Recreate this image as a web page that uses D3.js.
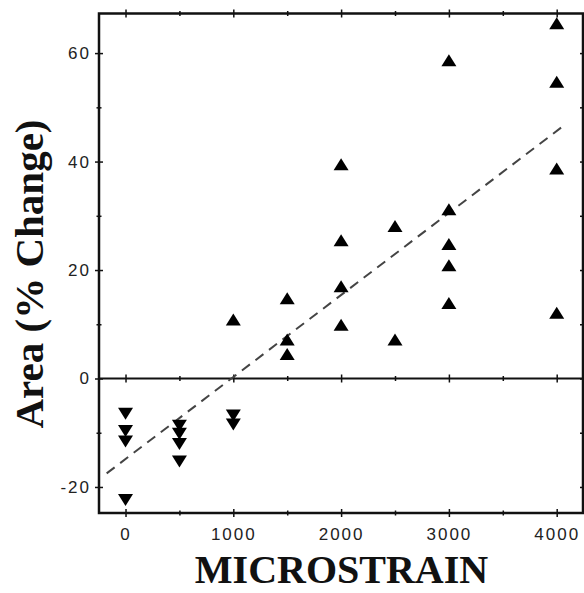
<!DOCTYPE html>
<html>
<head>
<meta charset="utf-8">
<script src="https://cdn.jsdelivr.net/npm/d3@7"></script>
<style>
  body { margin: 0; background: #fff; }
  svg { display: block; }
  .tick text { font-family: "Liberation Sans", Arial, sans-serif; font-size: 17px; letter-spacing: 2px; fill: #222; }
  .axis-title { font-family: "Liberation Serif", "Times New Roman", serif; font-weight: bold; fill: #111; }
</style>
</head>
<body>
<div id="chart"></div>
<script>
// ---------------------------------------------------------------------------
// DATA
// ---------------------------------------------------------------------------
const upStrain = [1000, 1500, 1500, 1500, 2000, 2000, 2000, 2000, 2500, 2500,
  3000, 3000, 3000, 3000, 3000, 4000, 4000, 4000, 4000];
const upArea = [10.9, 14.8, 7.2, 4.5, 39.5, 25.5, 17.0, 9.9, 28.1, 7.2,
  58.7, 31.2, 24.8, 20.9, 13.9, 65.5, 54.7, 38.7, 12.1];

const downStrain = [0, 0, 0, 0, 500, 500, 500, 500, 1000, 1000];
const downArea = [-6.5, -9.7, -11.6, -22.4, -8.7, -10.2, -12.1, -15.3, -6.8, -8.5];

// dashed regression line, two end points
const trendStrain = [-175, 4070];
const trendArea = [-17.5, 46.7];

const xMajor = [0, 1000, 2000, 3000, 4000];
const xMinor = [500, 1500, 2500, 3500];
const yMajor = [-20, 0, 20, 40, 60];
const yMinor = [-10, 10, 30, 50];

// ---------------------------------------------------------------------------
// SET UP
// ---------------------------------------------------------------------------
const W = 584;
const H = 593;
const margin = { top: 13.5, right: 1, bottom: 80, left: 99 };
const innerW = W - margin.left - margin.right;
const innerH = H - margin.top - margin.bottom;

const x = d3.scaleLinear().domain([-246, 4244]).range([0, innerW]);
const y = d3.scaleLinear().domain([-24.8, 67.3]).range([innerH, 0]);

// plain hyphen for negatives, as in the original
const plainFormat = d => String(d);

const svg = d3.select('#chart').append('svg')
  .attr('width', W)
  .attr('height', H);

const g = svg.append('g')
  .attr('transform', `translate(${margin.left},${margin.top})`);

// triangle centred on its bounding box, like the plotter glyphs
const triW = 15;
const triH = 12;
const triangleUp = {
  draw(ctx) {
    ctx.moveTo(0, -triH / 2);
    ctx.lineTo(triW / 2, triH / 2);
    ctx.lineTo(-triW / 2, triH / 2);
    ctx.closePath();
  },
};
const triangleDown = {
  draw(ctx) {
    ctx.moveTo(0, triH / 2);
    ctx.lineTo(triW / 2, -triH / 2);
    ctx.lineTo(-triW / 2, -triH / 2);
    ctx.closePath();
  },
};

// crossing tick marks
function crossTicks(sel, len) {
  sel.selectAll('.tick line')
    .attr('stroke', '#111')
    .attr('stroke-width', 1.5);
  sel.selectAll('.tick line').each(function () {
    const line = d3.select(this);
    if (line.attr('y2') !== null && +line.attr('y2') !== 0) {
      line.attr('y1', -len).attr('y2', len);
    } else {
      line.attr('x1', -len).attr('x2', len);
    }
  });
  sel.select('.domain').remove();
}

// ---------------------------------------------------------------------------
// AXES
// ---------------------------------------------------------------------------
// bottom: labels + ticks
const xBottom = g.append('g')
  .attr('transform', `translate(0,${innerH})`)
  .call(d3.axisBottom(x).tickValues(xMajor).tickSize(4).tickPadding(11).tickFormat(plainFormat));
crossTicks(xBottom, 4);

const xBottomMinor = g.append('g')
  .attr('transform', `translate(0,${innerH})`)
  .call(d3.axisBottom(x).tickValues(xMinor).tickSize(3).tickFormat(''));
crossTicks(xBottomMinor, 2.5);

// top + zero line ticks, no labels
[0, y(0)].forEach((ty) => {
  const major = g.append('g')
    .attr('transform', `translate(0,${ty})`)
    .call(d3.axisBottom(x).tickValues(xMajor).tickSize(4).tickFormat(''));
  crossTicks(major, 4);
  const minor = g.append('g')
    .attr('transform', `translate(0,${ty})`)
    .call(d3.axisBottom(x).tickValues(xMinor).tickSize(3).tickFormat(''));
  crossTicks(minor, 2.5);
});

// left: labels + ticks
const yLeft = g.append('g')
  .call(d3.axisLeft(y).tickValues(yMajor).tickSize(4).tickPadding(4).tickFormat(plainFormat));
crossTicks(yLeft, 4);

const yLeftMinor = g.append('g')
  .call(d3.axisLeft(y).tickValues(yMinor).tickSize(3).tickFormat(''));
crossTicks(yLeftMinor, 2.5);

// right edge ticks
const yRight = g.append('g')
  .attr('transform', `translate(${innerW},0)`)
  .call(d3.axisRight(y).tickValues(yMajor.concat(yMinor)).tickSize(4).tickFormat(''));
crossTicks(yRight, 3);

// frame
g.append('rect')
  .attr('x', 0)
  .attr('y', 0)
  .attr('width', innerW)
  .attr('height', innerH)
  .attr('fill', 'none')
  .attr('stroke', '#111')
  .attr('stroke-width', 2.5);

// zero line
g.append('line')
  .attr('x1', 0)
  .attr('x2', innerW)
  .attr('y1', y(0))
  .attr('y2', y(0))
  .attr('stroke', '#111')
  .attr('stroke-width', 1.8);

// ---------------------------------------------------------------------------
// TREND LINE + POINTS
// ---------------------------------------------------------------------------
const trend = trendStrain.map((s, i) => [s, trendArea[i]]);
g.append('path')
  .datum(trend)
  .attr('d', d3.line().x(d => x(d[0])).y(d => y(d[1])))
  .attr('fill', 'none')
  .attr('stroke', '#444')
  .attr('stroke-width', 2)
  .attr('stroke-dasharray', '10,7');

const ups = upStrain.map((s, i) => ({ s, a: upArea[i] }));
const downs = downStrain.map((s, i) => ({ s, a: downArea[i] }));

g.selectAll('path.up')
  .data(ups)
  .enter()
  .append('path')
    .attr('class', 'up')
    .attr('d', d3.symbol().type(triangleUp))
    .attr('transform', d => `translate(${x(d.s)},${y(d.a)})`)
    .attr('fill', '#000');

g.selectAll('path.down')
  .data(downs)
  .enter()
  .append('path')
    .attr('class', 'down')
    .attr('d', d3.symbol().type(triangleDown))
    .attr('transform', d => `translate(${x(d.s)},${y(d.a)})`)
    .attr('fill', '#000');

// ---------------------------------------------------------------------------
// AXIS TITLES
// ---------------------------------------------------------------------------
svg.append('text')
  .attr('class', 'axis-title')
  .attr('x', 341.5)
  .attr('y', 583)
  .attr('text-anchor', 'middle')
  .style('font-size', '40px')
  .text('MICROSTRAIN');

svg.append('text')
  .attr('class', 'axis-title')
  .attr('transform', 'translate(43,274) rotate(-90)')
  .attr('text-anchor', 'middle')
  .style('font-size', '41px')
  .text('Area (% Change)');
</script>
</body>
</html>
